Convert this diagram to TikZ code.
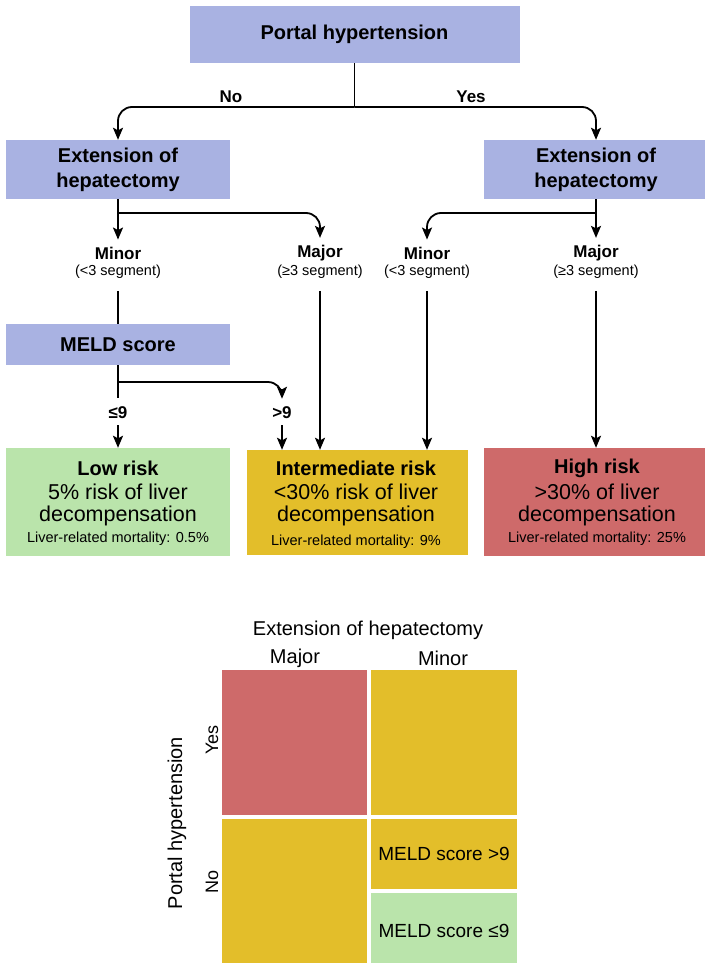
\documentclass[tikz,border=0pt]{standalone}
\usepackage{fontspec}
\setmainfont{Liberation Sans}
\usetikzlibrary{arrows.meta}
\definecolor{pblue}{RGB}{169,178,226}
\definecolor{cgreen}{RGB}{186,228,171}
\definecolor{cyellow}{RGB}{227,190,42}
\definecolor{cred}{RGB}{206,106,106}
\tikzset{
  box/.style={rectangle, draw=none, inner sep=0pt, anchor=center},
  bluebox/.style={box, fill=pblue, font=\fontsize{20}{25}\selectfont\bfseries, align=center},
  lab/.style={inner sep=1pt, font=\fontsize{17}{20}\selectfont\bfseries},
  seg/.style={inner sep=1pt, font=\fontsize{14.5}{17}\selectfont},
  ttl/.style={inner sep=0pt, font=\fontsize{20}{24}\selectfont\bfseries},
  body/.style={inner sep=0pt, font=\fontsize{21.5}{24}\selectfont},
  sml/.style={inner sep=0pt, font=\fontsize{14.5}{17}\selectfont},
  plain/.style={inner sep=0pt, font=\fontsize{20}{24}\selectfont},
  ln/.style={line width=1.8pt},
  arr/.style={ln, -{Stealth[length=12pt,width=10pt,inset=2.5pt]}, rounded corners=14pt}
}
\begin{document}
\begin{tikzpicture}[x=1pt,y=-1pt]
\useasboundingbox (0,0) rectangle (704,963);
% top
\node[bluebox, minimum width=330pt, minimum height=57pt] (ph) at (354.5,34.5) {Portal hypertension};
\node[lab] (no) at (231,97) {No};
\node[lab] (yes) at (471,97) {Yes};
\node[bluebox, minimum width=224pt, minimum height=59pt] (extL) at (118,169.5) {Extension of\\hepatectomy};
\node[bluebox, minimum width=224pt, minimum height=59pt] (extR) at (596,169.5) {Extension of\\hepatectomy};
\coordinate (j1) at (354.5,107);
\draw[ln] (ph.south) -- (j1);
\draw[arr] (j1) -| (extL.north);
\draw[arr] (j1) -| (extR.north);
% labels
\node[lab] (minLa) at (118,253) {Minor};
\node[seg] (minLb) at (118,272) {(<3 segment)};
\node[lab] (majLa) at (320,253) {Major};
\node[seg] (majLb) at (320,272) {(≥3 segment)};
\node[lab] (minRa) at (427,253) {Minor};
\node[seg] (minRb) at (427,272) {(<3 segment)};
\node[lab] (majRa) at (596,253) {Major};
\node[seg] (majRb) at (596,272) {(≥3 segment)};
\coordinate (j2) at (118,213);
\coordinate (j3) at (596,213);
\draw[arr, shorten >=6pt] (extL.south) -- (minLa.north);
\draw[arr, shorten >=6pt] (j2) -| (majLa.north);
\draw[arr, shorten >=6pt] (extR.south) -- (majRa.north);
\draw[arr, shorten >=6pt] (j3) -| (minRa.north);
% MELD
\node[bluebox, minimum width=224pt, minimum height=41pt] (meld) at (118,344.5) {MELD score};
\draw[ln, shorten <=11pt] (minLb.south) -- (meld.north);
\node[lab] (le9) at (118,413) {≤9};
\node[lab] (gt9) at (282,413) {>9};
\coordinate (j4) at (118,382);
\draw[ln, shorten >=8pt] (meld.south) -- (le9.north);
\draw[arr, shorten >=7pt] (j4) -| (gt9.north);
% risk boxes
\node[box, fill=cgreen, minimum width=224pt, minimum height=108pt] (low) at (118,502) {};
\node[box, fill=cyellow, minimum width=221pt, minimum height=105pt] (mid) at (357.5,502.5) {};
\node[box, fill=cred, minimum width=224pt, minimum height=108pt] (high) at (596,502) {};
\draw[arr, shorten <=5pt] (le9.south) -- (low.north);
\draw[arr, shorten <=5pt] (gt9.south) -- (gt9.south |- mid.north);
\draw[arr, shorten <=11pt] (majLb.south) -- (majLb.south |- mid.north);
\draw[arr, shorten <=11pt] (minRb.south) -- (minRb.south |- mid.north);
\draw[arr, shorten <=11pt] (majRb.south) -- (high.north);
% risk texts
\node[ttl] (lowT) at (118,468) {Low risk};
\node[body] (lowB) at (118,492) {5\% risk of liver};
\node[body] (lowC) at (118,516) {decompensation};
\node[sml] (lowD) at (118,539) {Liver-related mortality: 0.5\%};
\node[ttl] (midT) at (356,468) {Intermediate risk};
\node[body] (midB) at (356,492) {<30\% risk of liver};
\node[body] (midC) at (356,516) {decompensation};
\node[sml] (midD) at (356,542) {Liver-related mortality: 9\%};
\node[ttl] (highT) at (597,468) {High risk};
\node[body] (highB) at (597,492) {>30\% of liver};
\node[body] (highC) at (597,516) {decompensation};
\node[sml] (highD) at (597,539) {Liver-related mortality: 25\%};
% matrix
\node[plain] (mt) at (368,630) {Extension of hepatectomy};
\node[plain] (mj) at (295,658) {Major};
\node[plain] (mn) at (443,658) {Minor};
\node[box, fill=cred, minimum width=145pt, minimum height=145pt] (c11) at (294.5,742.5) {};
\node[box, fill=cyellow, minimum width=146pt, minimum height=145pt] (c12) at (444,742.5) {};
\node[box, fill=cyellow, minimum width=145pt, minimum height=150pt] (c21) at (294.5,894) {};
\node[box, fill=cyellow, minimum width=146pt, minimum height=70pt, font=\fontsize{19}{22}\selectfont] (c22) at (444,854) {MELD score >9};
\node[box, fill=cgreen, minimum width=146pt, minimum height=76pt, font=\fontsize{19}{22}\selectfont] (c23) at (444,931) {MELD score ≤9};
\node[inner sep=0pt, rotate=90, font=\fontsize{18}{22}\selectfont] (ry) at (212,740) {Yes};
\node[inner sep=0pt, rotate=90, font=\fontsize{18}{22}\selectfont] (rn) at (212,882) {No};
\node[inner sep=0pt, rotate=90, font=\fontsize{20}{24}\selectfont] (rp) at (177,823) {Portal hypertension};
\end{tikzpicture}
\end{document}
